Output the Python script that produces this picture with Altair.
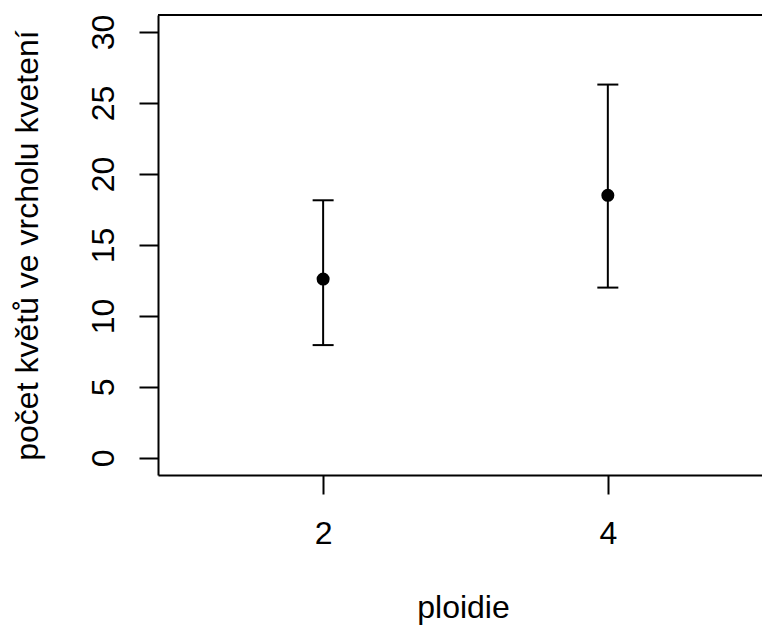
import altair as alt
import pandas as pd

# Mean flower count at peak flowering, with interval bounds, per ploidy level
ploidie = [2, 4]
prumer = [12.6, 18.5]
dolni = [7.95, 12.0]
horni = [18.15, 26.3]

y_ticks = [0, 5, 10, 15, 20, 25, 30]
x_ticks = [2, 4]

df = pd.DataFrame({"ploidie": ploidie, "prumer": prumer, "dolni": dolni, "horni": horni})

W, H = 604, 460
FONT = "Liberation Sans"
FS = 32

x_scale = alt.Scale(domain=[0.84, 5.083], nice=False, zero=False)
y_scale = alt.Scale(domain=[-1.2, 31.2], nice=False, zero=False)

x_enc = alt.X(
    "ploidie:Q",
    scale=x_scale,
    axis=alt.Axis(
        values=x_ticks,
        format="d",
        title="ploidie",
        grid=False,
        domainColor="black",
        domainWidth=2,
        tickColor="black",
        tickWidth=2,
        tickSize=19,
        labelFont=FONT,
        labelFontSize=FS,
        labelColor="black",
        labelPadding=49,
        labelBaseline="alphabetic",
        titleFont=FONT,
        titleFontSize=FS,
        titleFontWeight="normal",
        titleColor="black",
        titleX=305,
        titleY=142,
        titleBaseline="alphabetic",
        titleAlign="center",
    ),
)

y_axis = alt.Axis(
    values=y_ticks,
    format="d",
    title="počet květů ve vrcholu kvetení",
    grid=False,
    domainColor="black",
    domainWidth=2,
    tickColor="black",
    tickWidth=2,
    tickSize=19,
    labelFont=FONT,
    labelFontSize=FS,
    labelColor="black",
    labelAngle=270,
    labelAlign="center",
    labelBaseline="alphabetic",
    labelPadding=26,
    titleFont=FONT,
    titleFontSize=FS,
    titleFontWeight="normal",
    titleColor="black",
    titleAngle=270,
    titleAlign="center",
    titleBaseline="alphabetic",
    titleX=-121,
    titleY=230,
)

base = alt.Chart(df)

bars = base.mark_rule(color="black", strokeWidth=2).encode(
    x=x_enc,
    y=alt.Y("dolni:Q", scale=y_scale, axis=y_axis),
    y2="horni:Q",
)

cap_lo = base.mark_tick(orient="horizontal", size=21, thickness=2, color="black", opacity=1).encode(
    x=alt.X("ploidie:Q", scale=x_scale),
    y=alt.Y("dolni:Q", scale=y_scale),
)

cap_hi = base.mark_tick(orient="horizontal", size=21, thickness=2, color="black", opacity=1).encode(
    x=alt.X("ploidie:Q", scale=x_scale),
    y=alt.Y("horni:Q", scale=y_scale),
)

points = base.mark_circle(size=170, color="black", opacity=1).encode(
    x=alt.X("ploidie:Q", scale=x_scale),
    y=alt.Y("prumer:Q", scale=y_scale),
)

# top edge of the plot box
top_edge = alt.Chart(df).mark_rule(color="black", strokeWidth=2).encode(
    x=alt.value(0), x2=alt.value(W), y=alt.value(0)
)

chart = (
    alt.layer(bars, cap_lo, cap_hi, points, top_edge)
    .properties(
        width=W,
        height=H,
        autosize=alt.AutoSizeParams(type="none"),
        padding={"left": 158, "top": 15, "right": 0, "bottom": 151},
        background="white",
    )
    .configure_view(stroke=None)
)

chart.save("out.html", embed_options={"renderer": "svg", "actions": False})
